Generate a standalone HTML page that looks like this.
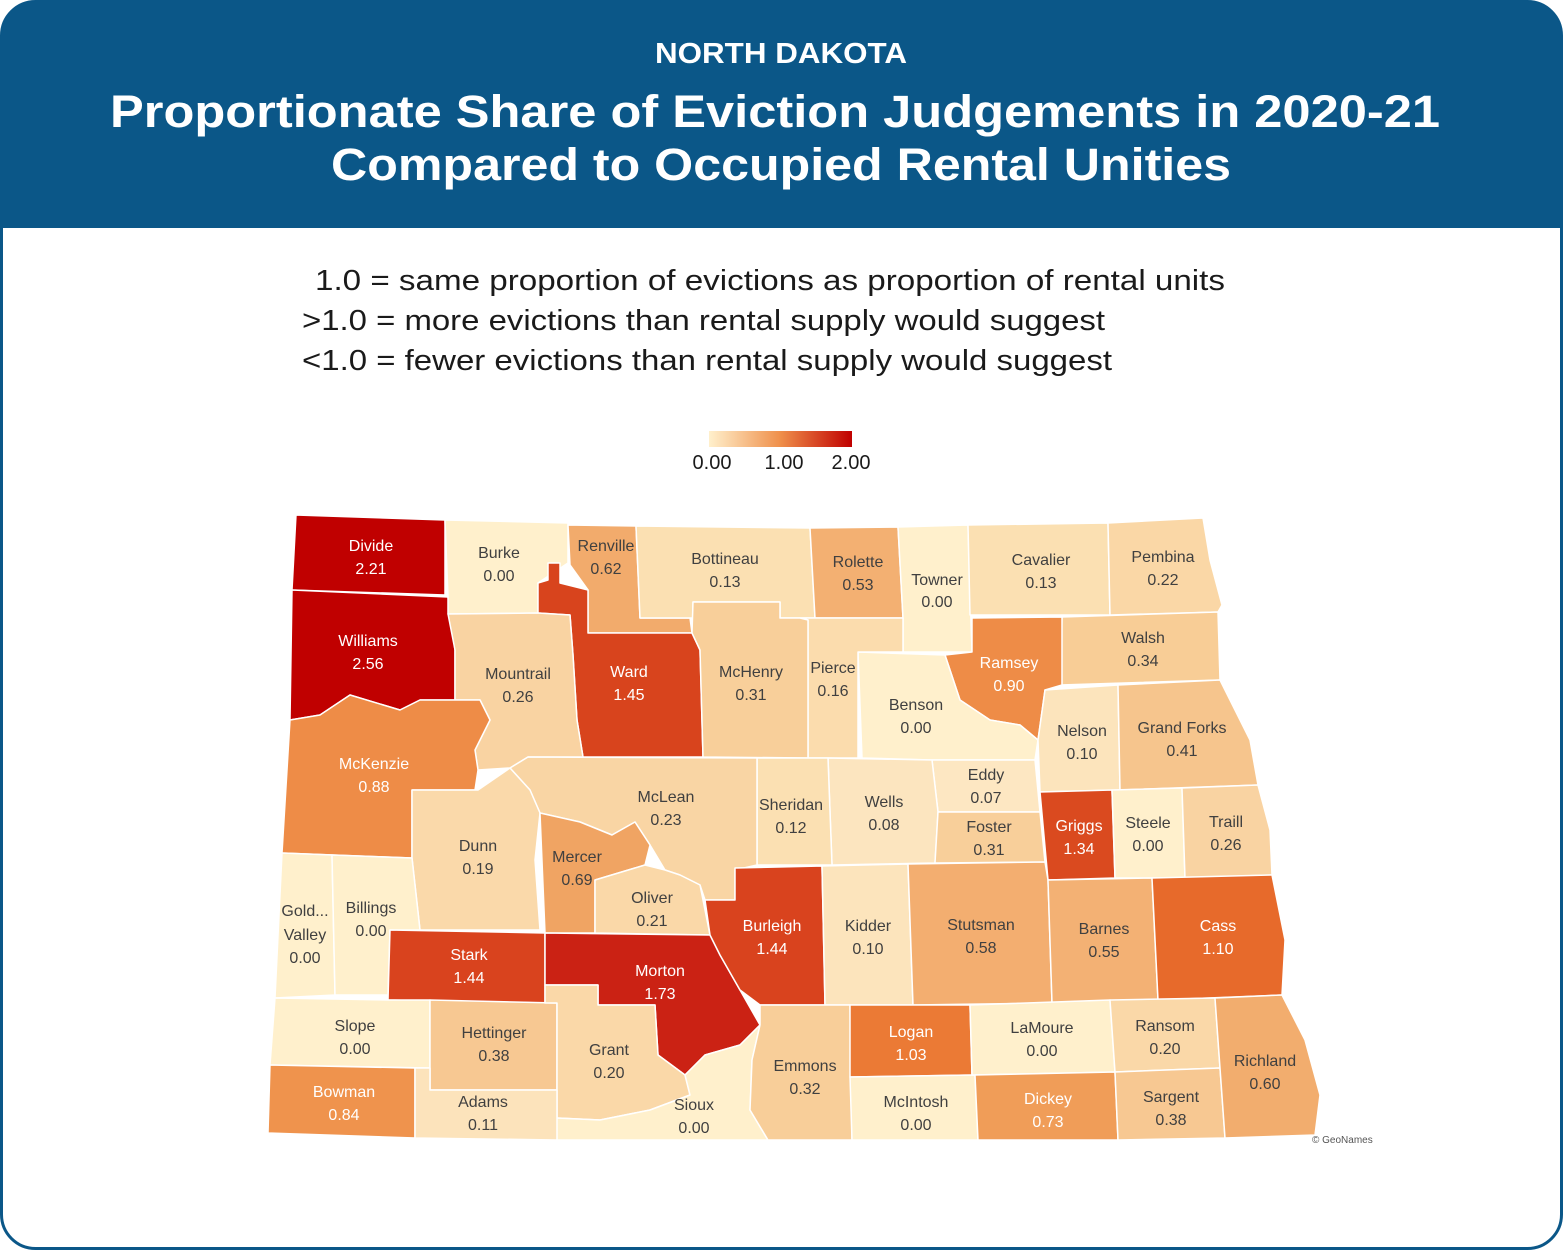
<!DOCTYPE html>
<html><head><meta charset="utf-8"><style>
html,body{margin:0;padding:0;background:#fff}
svg{display:block}
.c{stroke:#fff;stroke-width:1.5;stroke-linejoin:round}
.l{font-family:"Liberation Sans",sans-serif;font-size:16px;fill:#404040;text-anchor:middle}
.w{fill:#fff}
</style></head><body>
<svg width="1563" height="1250" viewBox="0 0 1563 1250" xmlns="http://www.w3.org/2000/svg">
<rect x="1.5" y="1.5" width="1560" height="1247" rx="34" fill="#fff" stroke="#0b5788" stroke-width="3"/>
<path d="M1.5,228 V36 A34,34 0 0 1 35.5,1.5 H1527.5 A34,34 0 0 1 1561.5,36 V228 Z" fill="#0b5788"/>
<g font-family="Liberation Sans,sans-serif" font-weight="bold" fill="#fff" text-anchor="middle">
<text x="781" y="63" font-size="29" textLength="252" lengthAdjust="spacingAndGlyphs">NORTH DAKOTA</text>
<text x="775" y="127" font-size="45" textLength="1330" lengthAdjust="spacingAndGlyphs">Proportionate Share of Eviction Judgements in 2020-21</text>
<text x="781" y="180" font-size="45" textLength="900" lengthAdjust="spacingAndGlyphs">Compared to Occupied Rental Unities</text>
</g>
<g font-family="Liberation Sans,sans-serif" font-size="29" fill="#1a1a1a">
<text x="315" y="290" textLength="910" lengthAdjust="spacingAndGlyphs">1.0 = same proportion of evictions as proportion of rental units</text>
<text x="302" y="330" textLength="803" lengthAdjust="spacingAndGlyphs">&gt;1.0 = more evictions than rental supply would suggest</text>
<text x="302" y="370" textLength="810" lengthAdjust="spacingAndGlyphs">&lt;1.0 = fewer evictions than rental supply would suggest</text>
</g>
<defs><linearGradient id="g" x1="0" x2="1"><stop offset="0" stop-color="#fff0cc"/><stop offset="0.5" stop-color="#ef8f4a"/><stop offset="1" stop-color="#c00000"/></linearGradient></defs>
<rect x="709" y="431" width="143" height="16" fill="url(#g)"/>
<g font-family="Liberation Sans,sans-serif" font-size="20" fill="#1a1a1a" text-anchor="middle">
<text x="712" y="469">0.00</text><text x="784" y="469">1.00</text><text x="851" y="469">2.00</text>
</g>
<g class="c">
<polygon fill="#c00000" points="296,515 445,520 445,595 292,590"/>
<polygon fill="#c00000" points="292,590 448,597 455,650 455,700 420,700 400,710 350,695 320,715 290,720"/>
<polygon fill="#fff0cc" points="445,520 568,523 568,563 538,583 538,613 448,614 448,597"/>
<polygon fill="#f2ab6c" points="568,525 636,526 640,618 690,618 692,633 588,633 588,590 570,565"/>
<polygon fill="#d8441d" points="548,563 560,563 560,583 588,590 588,633 692,633 700,650 703,757 583,757 577,720 573,655 570,615 538,613 538,583 548,580"/>
<polygon fill="#fbe0b2" points="636,526 810,528 815,618 780,618 780,602 693,602 693,618 640,618"/>
<polygon fill="#f3b072" points="810,528 898,527 903,618 815,618"/>
<polygon fill="#fff0cc" points="898,527 968,525 972,652 903,652 903,618"/>
<polygon fill="#fbe0b2" points="968,525 1108,523 1110,615 970,615"/>
<polygon fill="#fad7a6" points="1108,523 1203,518 1210,560 1222,605 1218,612 1110,615"/>
<polygon fill="#f8cd96" points="1062,617 1218,612 1220,680 1060,685"/>
<polygon fill="#ee8c47" points="972,618 1062,617 1062,685 1045,690 1038,740 1020,725 990,720 960,700 945,655 972,652"/>
<polygon fill="#fff0cc" points="858,652 945,655 960,700 990,720 1020,725 1038,740 1035,760 932,760 862,758"/>
<polygon fill="#fbdcad" points="800,618 903,618 903,652 858,652 858,758 808,758 808,620"/>
<polygon fill="#f8cf9a" points="693,602 780,602 780,618 800,618 808,620 808,758 703,757 700,650 692,633"/>
<polygon fill="#f9d3a2" points="448,614 538,613 570,615 573,655 577,720 583,757 528,757 510,768 478,770 475,750 490,720 480,700 455,700 455,650"/>
<polygon fill="#ee8c47" points="290,720 320,715 350,695 400,710 420,700 452,700 480,700 490,720 475,750 478,770 475,790 412,790 412,858 282,853"/>
<polygon fill="#fce4bc" points="1045,690 1118,685 1120,790 1040,792 1038,740"/>
<polygon fill="#f6c58d" points="1118,685 1220,680 1250,740 1258,785 1120,790"/>
<polygon fill="#fde7c2" points="932,760 1035,760 1040,812 938,812"/>
<polygon fill="#fce5bf" points="828,758 932,760 938,812 935,863 832,865"/>
<polygon fill="#fbe0b2" points="757,758 828,758 832,865 757,865"/>
<polygon fill="#f9d5a4" points="510,768 528,757 757,758 757,865 735,870 735,900 705,900 700,885 680,875 665,870 650,845 635,822 612,835 580,822 540,813 530,790"/>
<polygon fill="#fad9aa" points="412,790 478,790 510,768 530,790 540,813 535,860 540,930 420,930 412,858"/>
<polygon fill="#f0a463" points="540,813 580,822 612,835 635,822 650,845 645,865 595,880 595,933 545,933"/>
<polygon fill="#fad8a8" points="595,880 645,865 665,870 680,875 700,885 710,935 595,933"/>
<polygon fill="#f8cf9a" points="938,812 1040,812 1045,862 935,863"/>
<polygon fill="#da4a1f" points="1040,792 1112,790 1115,878 1048,880"/>
<polygon fill="#fff0cc" points="1112,790 1182,788 1185,878 1115,878"/>
<polygon fill="#f9d3a2" points="1182,788 1258,785 1270,830 1272,875 1185,878"/>
<polygon fill="#fff0cc" points="282,853 332,855 335,995 275,998"/>
<polygon fill="#fff0cc" points="332,855 412,858 420,930 390,930 388,995 335,995"/>
<polygon fill="#d9431e" points="390,930 545,933 545,1003 388,1000"/>
<polygon fill="#cb2214" points="545,933 710,935 720,955 740,990 760,1025 740,1045 705,1055 685,1075 658,1055 655,1005 598,1005 598,985 545,985"/>
<polygon fill="#d9431e" points="735,868 822,866 825,1005 760,1005 740,990 720,955 710,935 705,900 735,900"/>
<polygon fill="#fce4bc" points="822,866 908,864 913,1005 825,1005"/>
<polygon fill="#f3ae70" points="908,864 1045,862 1048,880 1052,1003 913,1005"/>
<polygon fill="#f3b174" points="1048,880 1152,878 1158,1000 1052,1003"/>
<polygon fill="#e76a2b" points="1152,878 1272,875 1285,940 1282,995 1158,1000"/>
<polygon fill="#fff0cc" points="275,998 388,1000 430,1000 430,1068 270,1065"/>
<polygon fill="#f7c892" points="430,1000 557,1003 557,1090 430,1090"/>
<polygon fill="#fad8a8" points="545,985 598,985 598,1005 655,1005 658,1055 685,1075 690,1095 650,1110 600,1120 557,1118 557,1003 545,1003"/>
<polygon fill="#fff0cc" points="557,1118 600,1120 650,1110 690,1095 685,1075 705,1055 740,1045 760,1025 752,1060 750,1110 768,1140 555,1140"/>
<polygon fill="#f8ce99" points="760,1005 850,1005 852,1140 768,1140 750,1110 752,1060 760,1025"/>
<polygon fill="#eb7a35" points="850,1005 970,1005 972,1075 850,1077"/>
<polygon fill="#fff0cc" points="850,1077 975,1075 978,1140 852,1140"/>
<polygon fill="#fff0cc" points="970,1005 1110,1000 1115,1072 972,1075"/>
<polygon fill="#f09d58" points="975,1075 1115,1072 1118,1140 978,1140"/>
<polygon fill="#fad8a8" points="1110,1000 1215,998 1220,1068 1115,1072"/>
<polygon fill="#f7c892" points="1115,1072 1220,1068 1225,1138 1118,1140"/>
<polygon fill="#f2ad6e" points="1215,998 1282,995 1305,1040 1320,1095 1315,1135 1225,1138"/>
<polygon fill="#ef934d" points="270,1065 415,1068 415,1138 268,1133"/>
<polygon fill="#fce3bb" points="415,1068 430,1068 430,1090 557,1090 557,1140 415,1138"/>
</g>
<g class="l">
<text class="w" x="371" y="551">Divide</text><text class="w" x="371" y="574">2.21</text>
<text class="w" x="368" y="646">Williams</text><text class="w" x="368" y="669">2.56</text>
<text x="499" y="558">Burke</text><text x="499" y="581">0.00</text>
<text x="606" y="551">Renville</text><text x="606" y="574">0.62</text>
<text x="725" y="564">Bottineau</text><text x="725" y="587">0.13</text>
<text x="858" y="567">Rolette</text><text x="858" y="590">0.53</text>
<text x="937" y="585">Towner</text><text x="937" y="607">0.00</text>
<text x="1041" y="565">Cavalier</text><text x="1041" y="588">0.13</text>
<text x="1163" y="562">Pembina</text><text x="1163" y="585">0.22</text>
<text x="1143" y="643">Walsh</text><text x="1143" y="666">0.34</text>
<text class="w" x="1009" y="668">Ramsey</text><text class="w" x="1009" y="691">0.90</text>
<text x="518" y="679">Mountrail</text><text x="518" y="702">0.26</text>
<text class="w" x="629" y="677">Ward</text><text class="w" x="629" y="700">1.45</text>
<text x="751" y="677">McHenry</text><text x="751" y="700">0.31</text>
<text x="833" y="673">Pierce</text><text x="833" y="696">0.16</text>
<text x="916" y="710">Benson</text><text x="916" y="733">0.00</text>
<text x="1082" y="736">Nelson</text><text x="1082" y="759">0.10</text>
<text x="1182" y="733">Grand Forks</text><text x="1182" y="756">0.41</text>
<text class="w" x="374" y="769">McKenzie</text><text class="w" x="374" y="792">0.88</text>
<text x="986" y="780">Eddy</text><text x="986" y="803">0.07</text>
<text x="666" y="802">McLean</text><text x="666" y="825">0.23</text>
<text x="791" y="810">Sheridan</text><text x="791" y="833">0.12</text>
<text x="884" y="807">Wells</text><text x="884" y="830">0.08</text>
<text x="989" y="832">Foster</text><text x="989" y="855">0.31</text>
<text class="w" x="1079" y="831">Griggs</text><text class="w" x="1079" y="854">1.34</text>
<text x="1148" y="828">Steele</text><text x="1148" y="851">0.00</text>
<text x="1226" y="827">Traill</text><text x="1226" y="850">0.26</text>
<text x="478" y="851">Dunn</text><text x="478" y="874">0.19</text>
<text x="577" y="862">Mercer</text><text x="577" y="885">0.69</text>
<text x="652" y="903">Oliver</text><text x="652" y="926">0.21</text>
<text x="305" y="916">Gold...</text><text x="305" y="940">Valley</text><text x="305" y="963">0.00</text>
<text x="371" y="913">Billings</text><text x="371" y="936">0.00</text>
<text class="w" x="772" y="931">Burleigh</text><text class="w" x="772" y="954">1.44</text>
<text x="868" y="931">Kidder</text><text x="868" y="954">0.10</text>
<text x="981" y="930">Stutsman</text><text x="981" y="953">0.58</text>
<text x="1104" y="934">Barnes</text><text x="1104" y="957">0.55</text>
<text class="w" x="1218" y="931">Cass</text><text class="w" x="1218" y="954">1.10</text>
<text class="w" x="469" y="960">Stark</text><text class="w" x="469" y="983">1.44</text>
<text class="w" x="660" y="976">Morton</text><text class="w" x="660" y="999">1.73</text>
<text x="355" y="1031">Slope</text><text x="355" y="1054">0.00</text>
<text x="494" y="1038">Hettinger</text><text x="494" y="1061">0.38</text>
<text x="609" y="1055">Grant</text><text x="609" y="1078">0.20</text>
<text class="w" x="911" y="1037">Logan</text><text class="w" x="911" y="1060">1.03</text>
<text x="1042" y="1033">LaMoure</text><text x="1042" y="1056">0.00</text>
<text x="1165" y="1031">Ransom</text><text x="1165" y="1054">0.20</text>
<text x="1265" y="1066">Richland</text><text x="1265" y="1089">0.60</text>
<text x="805" y="1071">Emmons</text><text x="805" y="1094">0.32</text>
<text class="w" x="344" y="1097">Bowman</text><text class="w" x="344" y="1120">0.84</text>
<text x="483" y="1107">Adams</text><text x="483" y="1130">0.11</text>
<text x="694" y="1110">Sioux</text><text x="694" y="1133">0.00</text>
<text x="916" y="1107">McIntosh</text><text x="916" y="1130">0.00</text>
<text class="w" x="1048" y="1104">Dickey</text><text class="w" x="1048" y="1127">0.73</text>
<text x="1171" y="1102">Sargent</text><text x="1171" y="1125">0.38</text>
</g>
<text x="1312" y="1143" font-family="Liberation Sans,sans-serif" font-size="10" fill="#555">© GeoNames</text>
</svg>
</body></html>
